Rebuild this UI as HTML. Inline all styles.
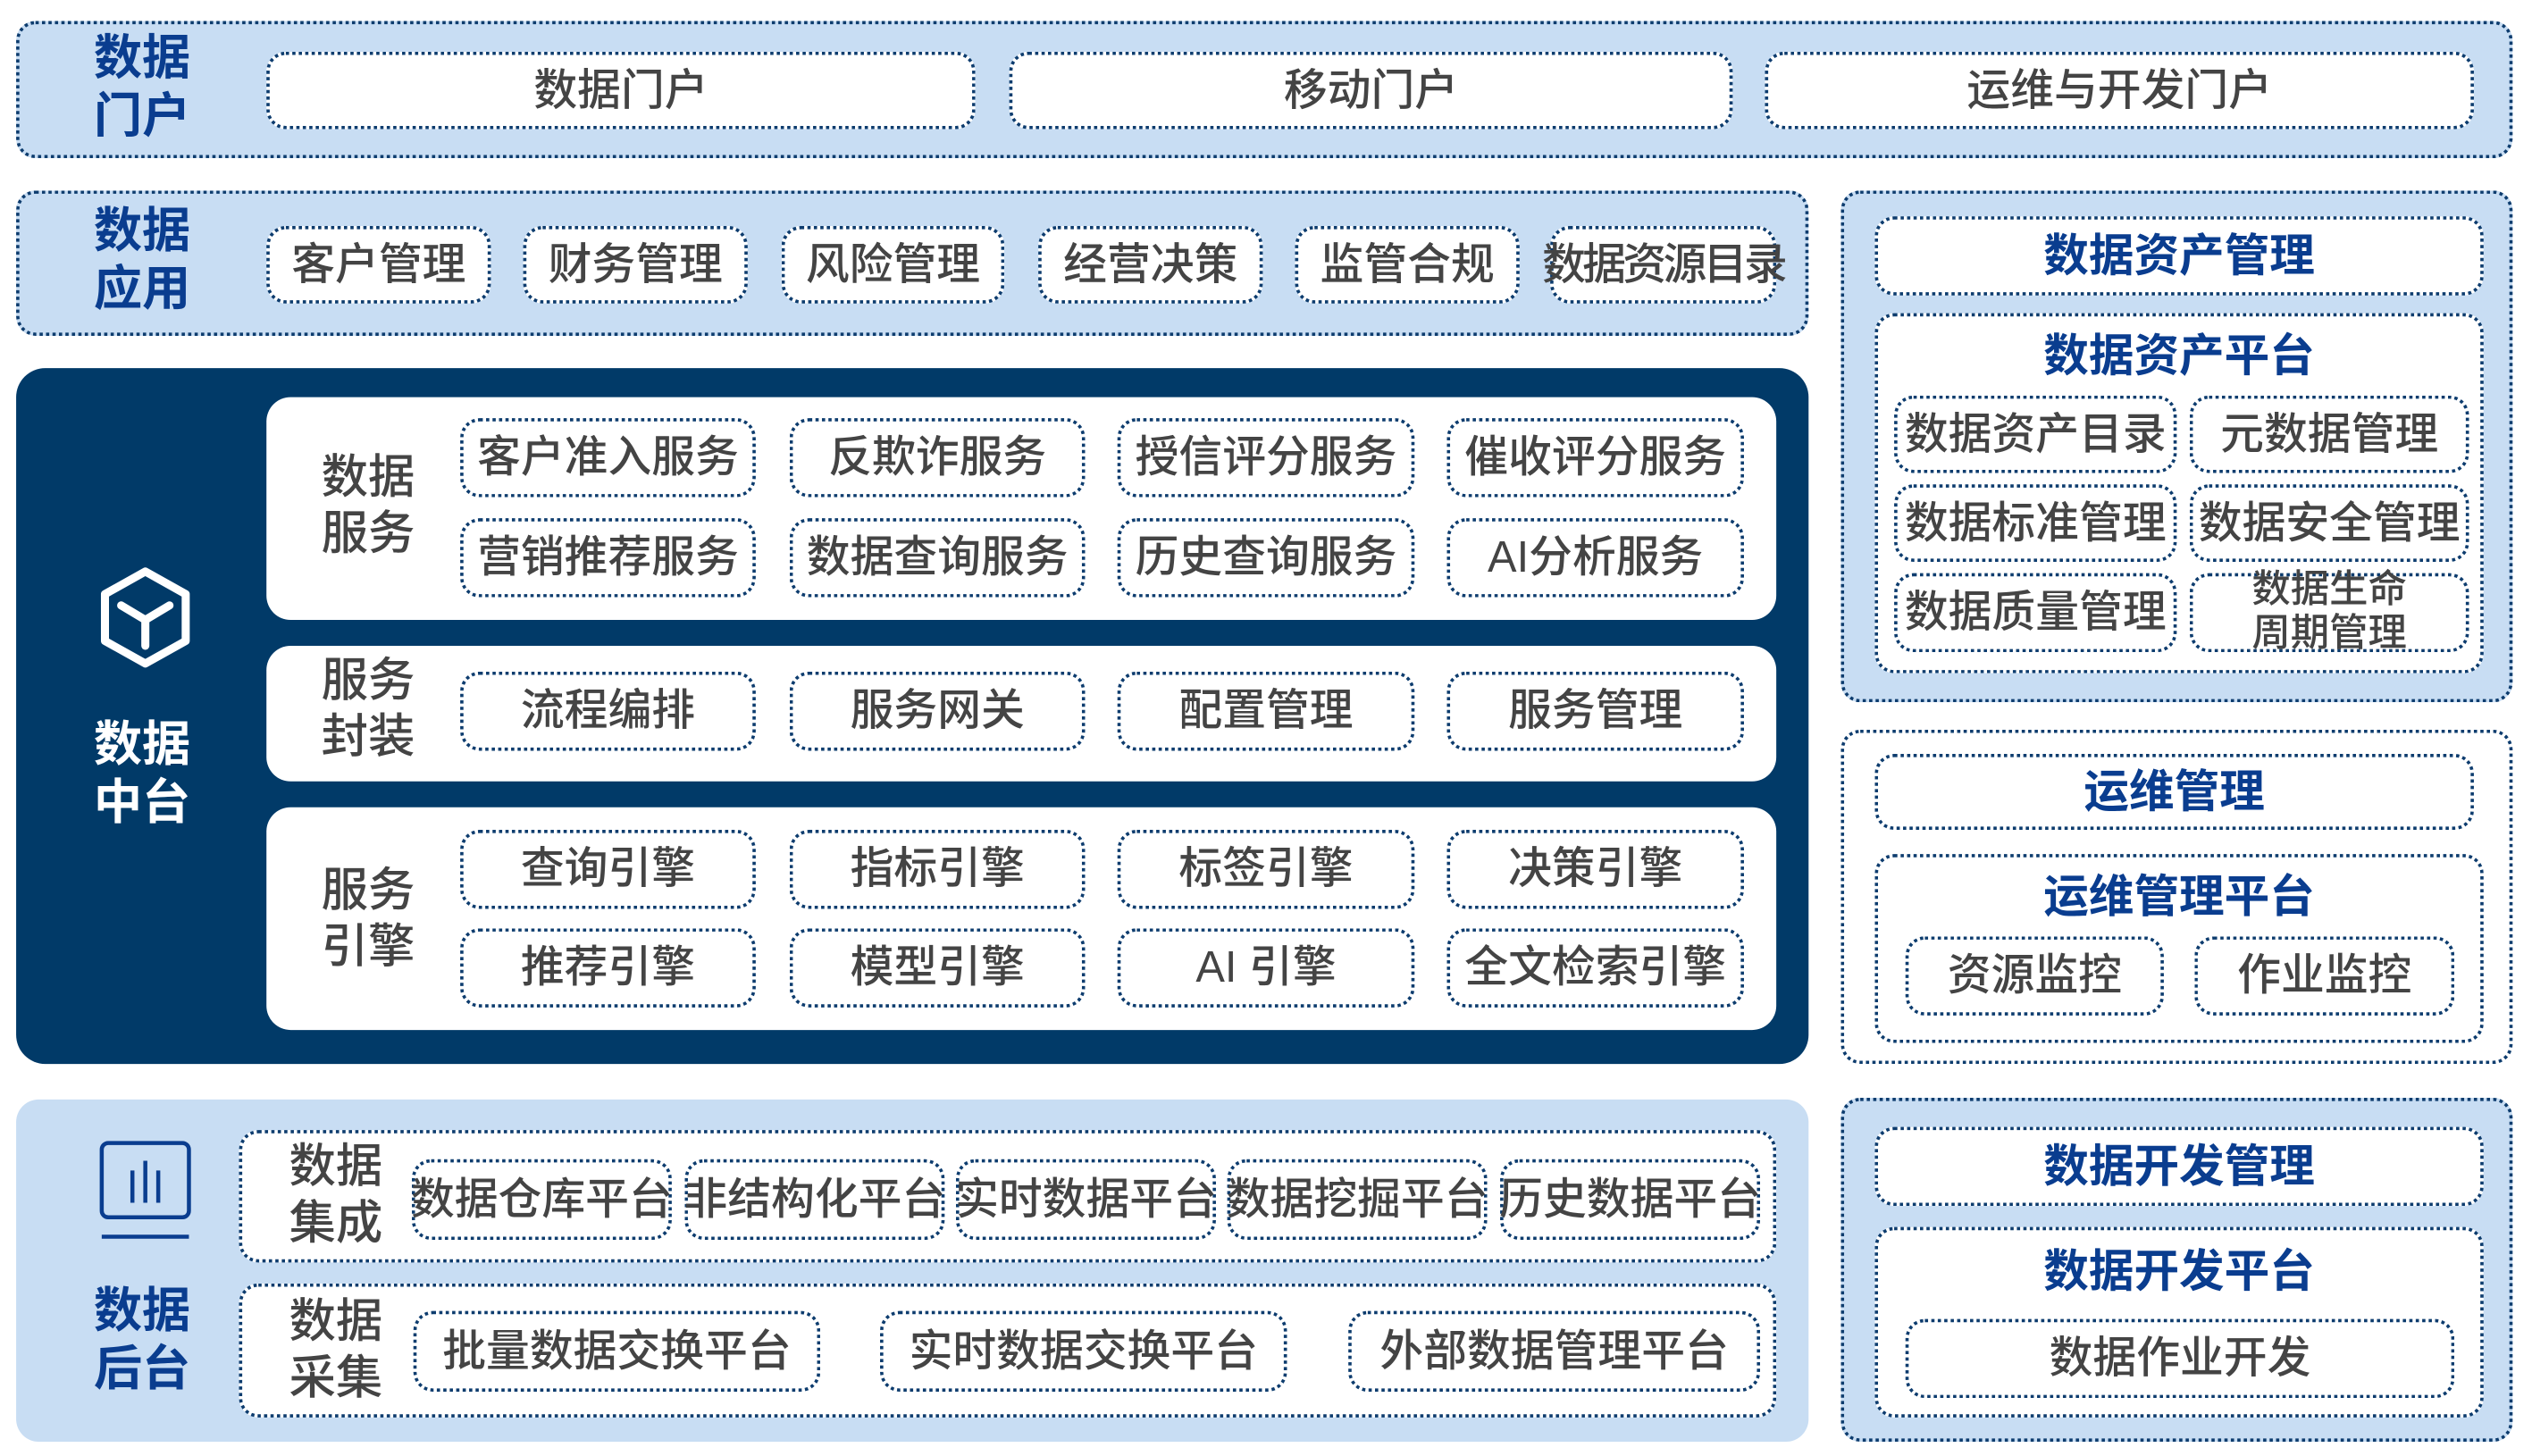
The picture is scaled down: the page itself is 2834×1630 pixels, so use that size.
<!DOCTYPE html>
<html><head><meta charset="utf-8"><style>
html,body{margin:0;padding:0;background:#fff;}
body{width:2834px;height:1630px;overflow:hidden;position:relative;}
#s{position:absolute;left:0;top:0;width:1568px;height:902px;transform:scale(1.8074);transform-origin:0 0;font-family:"Liberation Sans","Noto Sans CJK SC",sans-serif;}
#s div{position:absolute;box-sizing:border-box;}
.lb{background:#c8ddf3;border-radius:14px;}
.d{border:2px dotted #0d3c6e;border-radius:12px;}
.w{background:#fff;}
.t{display:flex;align-items:center;justify-content:center;color:#444;font-size:27px;font-weight:500;white-space:nowrap;line-height:1.05;text-align:center;}
.bl{color:#0a3d8f;font-weight:bold;}
.h{color:#0a3d8f;font-weight:bold;font-size:30px;line-height:1.2;text-align:center;width:70px;}
.g{color:#444;font-size:29px;font-weight:500;line-height:1.2;text-align:center;width:70px;}
</style></head><body><div id="s">
<!-- row1 -->
<div class="lb d" style="left:10px;top:13px;width:1546px;height:85px;"></div>
<div class="h" style="left:53px;top:19px;">数据<br>门户</div>
<div class="d w t" style="left:165px;top:32px;width:439px;height:48px;">数据门户</div>
<div class="d w t" style="left:625px;top:32px;width:448px;height:48px;">移动门户</div>
<div class="d w t" style="left:1093px;top:32px;width:439px;height:48px;">运维与开发门户</div>
<!-- row2 -->
<div class="lb d" style="left:10px;top:118px;width:1110px;height:90px;"></div>
<div class="h" style="left:53px;top:126px;">数据<br>应用</div>
<div class="d w t" style="left:165px;top:140px;width:139px;height:48px;">客户管理</div>
<div class="d w t" style="left:324px;top:140px;width:139px;height:48px;">财务管理</div>
<div class="d w t" style="left:484px;top:140px;width:138px;height:48px;">风险管理</div>
<div class="d w t" style="left:643px;top:140px;width:139px;height:48px;">经营决策</div>
<div class="d w t" style="left:802px;top:140px;width:139px;height:48px;">监管合规</div>
<div class="d w t" style="left:960px;top:140px;width:140px;height:48px;letter-spacing:-2px;">数据资源目录</div>
<!-- dark -->
<div style="left:10px;top:228px;width:1110px;height:431px;background:#013a68;border-radius:18px;"></div>
<svg style="position:absolute;left:60px;top:350px" width="60" height="70" viewBox="0 0 60 70"><polygon points="30,4 55,18 55,47 30,61 5,47 5,18" fill="none" stroke="#fff" stroke-width="5" stroke-linejoin="round"/><polyline points="15,25 30,34 45,25" fill="none" stroke="#fff" stroke-width="5" stroke-linecap="round" stroke-linejoin="round"/><line x1="30" y1="34" x2="30" y2="50" stroke="#fff" stroke-width="5" stroke-linecap="round"/></svg>
<div class="h" style="left:53px;top:444px;color:#fff;">数据<br>中台</div>
<div class="w" style="left:165px;top:246px;width:935px;height:138px;border-radius:15px;"></div>
<div class="w" style="left:165px;top:400px;width:935px;height:84px;border-radius:15px;"></div>
<div class="w" style="left:165px;top:500px;width:935px;height:138px;border-radius:15px;"></div>
<div class="g" style="left:193px;top:279px;">数据<br>服务</div>
<div class="g" style="left:193px;top:405px;">服务<br>封装</div>
<div class="g" style="left:193px;top:535px;">服务<br>引擎</div>
<div class="d w t" style="left:285px;top:259px;width:183px;height:49px;">客户准入服务</div>
<div class="d w t" style="left:489px;top:259px;width:183px;height:49px;">反欺诈服务</div>
<div class="d w t" style="left:692px;top:259px;width:184px;height:49px;">授信评分服务</div>
<div class="d w t" style="left:896px;top:259px;width:184px;height:49px;">催收评分服务</div>
<div class="d w t" style="left:285px;top:321px;width:183px;height:49px;">营销推荐服务</div>
<div class="d w t" style="left:489px;top:321px;width:183px;height:49px;">数据查询服务</div>
<div class="d w t" style="left:692px;top:321px;width:184px;height:49px;">历史查询服务</div>
<div class="d w t" style="left:896px;top:321px;width:184px;height:49px;">AI分析服务</div>
<div class="d w t" style="left:285px;top:416px;width:183px;height:49px;">流程编排</div>
<div class="d w t" style="left:489px;top:416px;width:183px;height:49px;">服务网关</div>
<div class="d w t" style="left:692px;top:416px;width:184px;height:49px;">配置管理</div>
<div class="d w t" style="left:896px;top:416px;width:184px;height:49px;">服务管理</div>
<div class="d w t" style="left:285px;top:514px;width:183px;height:49px;">查询引擎</div>
<div class="d w t" style="left:489px;top:514px;width:183px;height:49px;">指标引擎</div>
<div class="d w t" style="left:692px;top:514px;width:184px;height:49px;">标签引擎</div>
<div class="d w t" style="left:896px;top:514px;width:184px;height:49px;">决策引擎</div>
<div class="d w t" style="left:285px;top:575px;width:183px;height:49px;">推荐引擎</div>
<div class="d w t" style="left:489px;top:575px;width:183px;height:49px;">模型引擎</div>
<div class="d w t" style="left:692px;top:575px;width:184px;height:49px;">AI 引擎</div>
<div class="d w t" style="left:896px;top:575px;width:184px;height:49px;">全文检索引擎</div>
<!-- bottom left -->
<div class="lb" style="left:10px;top:681px;width:1110px;height:212px;"></div>
<svg style="position:absolute;left:60px;top:705px" width="60" height="66" viewBox="0 0 60 66"><rect x="3" y="3" width="54" height="46" rx="4" fill="none" stroke="#0a3d8f" stroke-width="2.5"/><line x1="22" y1="20" x2="22" y2="40" stroke="#0a3d8f" stroke-width="2.5"/><line x1="30" y1="14" x2="30" y2="40" stroke="#0a3d8f" stroke-width="2.5"/><line x1="38" y1="20" x2="38" y2="40" stroke="#0a3d8f" stroke-width="2.5"/><line x1="3" y1="61" x2="57" y2="61" stroke="#0a3d8f" stroke-width="2.5"/></svg>
<div class="h" style="left:53px;top:795px;">数据<br>后台</div>
<div class="d w" style="left:148px;top:700px;width:952px;height:82px;"></div>
<div class="d w" style="left:148px;top:795px;width:952px;height:83px;"></div>
<div class="g" style="left:173px;top:706px;">数据<br>集成</div>
<div class="g" style="left:173px;top:802px;">数据<br>采集</div>
<div class="d w t" style="left:255px;top:718px;width:161px;height:50px;">数据仓库平台</div>
<div class="d w t" style="left:424px;top:718px;width:161px;height:50px;">非结构化平台</div>
<div class="d w t" style="left:592px;top:718px;width:161px;height:50px;">实时数据平台</div>
<div class="d w t" style="left:760px;top:718px;width:161px;height:50px;">数据挖掘平台</div>
<div class="d w t" style="left:929px;top:718px;width:161px;height:50px;">历史数据平台</div>
<div class="d w t" style="left:256px;top:812px;width:252px;height:50px;">批量数据交换平台</div>
<div class="d w t" style="left:545px;top:812px;width:252px;height:50px;">实时数据交换平台</div>
<div class="d w t" style="left:835px;top:812px;width:255px;height:50px;">外部数据管理平台</div>
<!-- right col -->
<div class="lb d" style="left:1140px;top:118px;width:416px;height:317px;"></div>
<div class="d w t bl" style="left:1161px;top:134px;width:377px;height:49px;font-size:28px;">数据资产管理</div>
<div class="d w" style="left:1161px;top:194px;width:377px;height:223px;"></div>
<div class="t bl" style="left:1161px;top:203px;width:377px;height:36px;font-size:28px;">数据资产平台</div>
<div class="d w t" style="left:1173px;top:245px;width:175px;height:48px;">数据资产目录</div>
<div class="d w t" style="left:1356px;top:245px;width:173px;height:48px;">元数据管理</div>
<div class="d w t" style="left:1173px;top:300px;width:175px;height:48px;">数据标准管理</div>
<div class="d w t" style="left:1356px;top:300px;width:173px;height:48px;">数据安全管理</div>
<div class="d w t" style="left:1173px;top:355px;width:175px;height:49px;">数据质量管理</div>
<div class="d w t" style="left:1356px;top:355px;width:173px;height:49px;font-size:24px;line-height:1.1;">数据生命<br>周期管理</div>
<div class="d w" style="left:1140px;top:452px;width:416px;height:207px;"></div>
<div class="d w t bl" style="left:1161px;top:467px;width:371px;height:47px;font-size:28px;">运维管理</div>
<div class="d w" style="left:1161px;top:529px;width:377px;height:117px;"></div>
<div class="t bl" style="left:1161px;top:538px;width:377px;height:36px;font-size:28px;">运维管理平台</div>
<div class="d w t" style="left:1180px;top:580px;width:160px;height:49px;">资源监控</div>
<div class="d w t" style="left:1359px;top:580px;width:161px;height:49px;">作业监控</div>
<div class="lb d" style="left:1140px;top:680px;width:416px;height:213px;"></div>
<div class="d w t bl" style="left:1161px;top:698px;width:377px;height:49px;font-size:28px;">数据开发管理</div>
<div class="d w" style="left:1161px;top:760px;width:377px;height:118px;"></div>
<div class="t bl" style="left:1161px;top:770px;width:377px;height:36px;font-size:28px;">数据开发平台</div>
<div class="d w t" style="left:1180px;top:817px;width:340px;height:49px;">数据作业开发</div>
</div></body></html>
